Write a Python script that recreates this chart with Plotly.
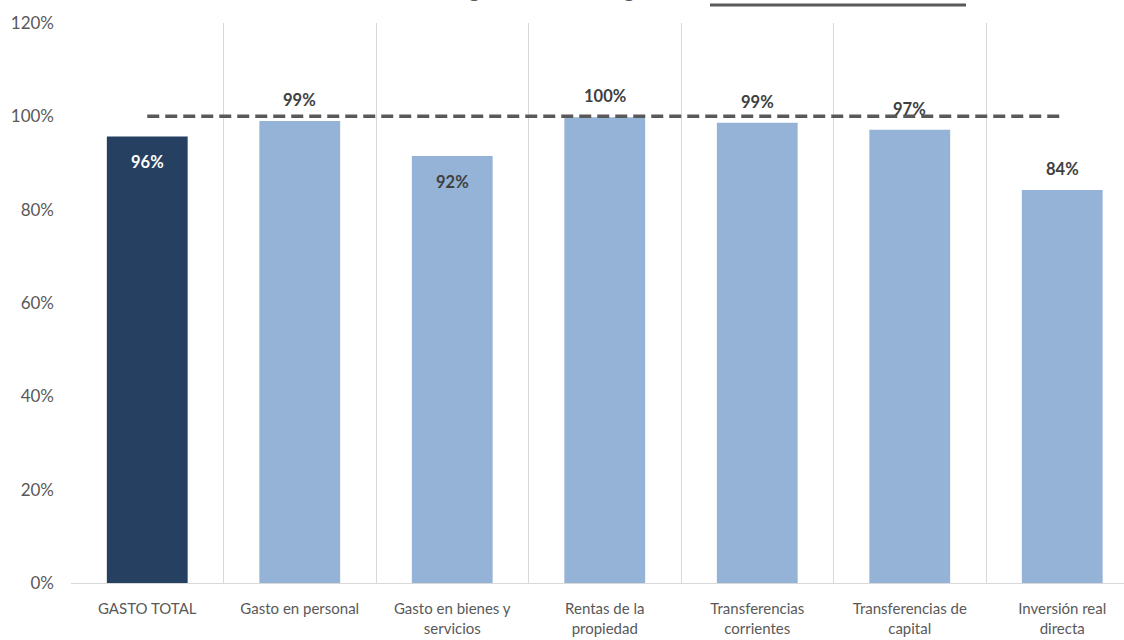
import plotly.graph_objects as go

categories = ["GASTO TOTAL", "Gasto en personal", "Gasto en bienes y<br>servicios",
              "Rentas de la<br>propiedad", "Transferencias<br>corrientes",
              "Transferencias de<br>capital", "Inversión real<br>directa"]
values = [0.957, 0.99, 0.915, 0.998, 0.986, 0.971, 0.842]
labels = ["96%", "99%", "92%", "100%", "99%", "97%", "84%"]
label_inside = [True, False, True, False, False, False, False]
target = [1.0] * 7
y_ticks = [0, 0.2, 0.4, 0.6, 0.8, 1.0, 1.2]
title_text = "(Monto Devengado / Monto Asignado)"

xs = list(range(len(categories)))
bar_colors = ["#264061"] + ["#95B3D7"] * (len(categories) - 1)

fig = go.Figure()
fig.add_trace(go.Bar(x=xs, y=values, marker=dict(color=bar_colors, line=dict(width=0)),
                     width=0.53, hoverinfo="skip"))
fig.add_trace(go.Scatter(x=xs, y=target, mode="lines",
                         line=dict(color="#595959", width=3.5, dash="12px,6px"),
                         hoverinfo="skip"))

for i, (v, lab, inside) in enumerate(zip(values, labels, label_inside)):
    fig.add_annotation(x=i, y=v, text="<b>%s</b>" % lab, showarrow=False,
                       yshift=-26 if inside else 21,
                       font=dict(family="Lato", size=16.5,
                                 color="#FFFFFF" if i == 0 else "#404040"))

# title at the top of the page (only its lowest part is visible, as in the reference)
fig.add_annotation(xref="paper", yref="paper", x=(512 - 71) / 1053, y=1 + (23 - 3) / 560,
                   yanchor="bottom", xanchor="center", showarrow=False,
                   text="<b>%s</b>" % title_text,
                   font=dict(family="Lato", size=20, color="#595959"))
fig.add_shape(type="line", xref="paper", yref="paper",
              x0=(710 - 71) / 1053, x1=(966 - 71) / 1053,
              y0=1 + (23 - 5) / 560, y1=1 + (23 - 5) / 560,
              line=dict(color="#595959", width=3))

fig.update_layout(
    width=1124, height=640,
    margin=dict(l=71, r=0, t=23, b=57),
    plot_bgcolor="white", paper_bgcolor="white",
    showlegend=False,
    font=dict(family="Lato", color="#595959", size=15),
    xaxis=dict(
        range=[-0.5, -0.5 + 1053 / 152.5],
        tickmode="array", tickvals=xs, ticktext=categories,
        showgrid=False, zeroline=False,
        showline=True, linecolor="#D9D9D9", linewidth=1,
        ticks="", tickfont=dict(size=15, color="#595959"),
        ticklabelstandoff=12,
        minor=dict(tickmode="array", tickvals=[i - 0.5 for i in range(8)],
                   showgrid=True, gridcolor="#D9D9D9", gridwidth=1, ticks=""),
    ),
    yaxis=dict(
        range=[0, 1.2], tickmode="array", tickvals=y_ticks, tickformat=".0%",
        showgrid=False, zeroline=False, showline=False, ticks="",
        ticklabelstandoff=16, tickfont=dict(size=17, color="#595959"),
    ),
)

fig.write_html("out.html", config={"displayModeBar": False},
               post_script="document.body.style.margin='0';document.body.style.overflow='hidden';")
